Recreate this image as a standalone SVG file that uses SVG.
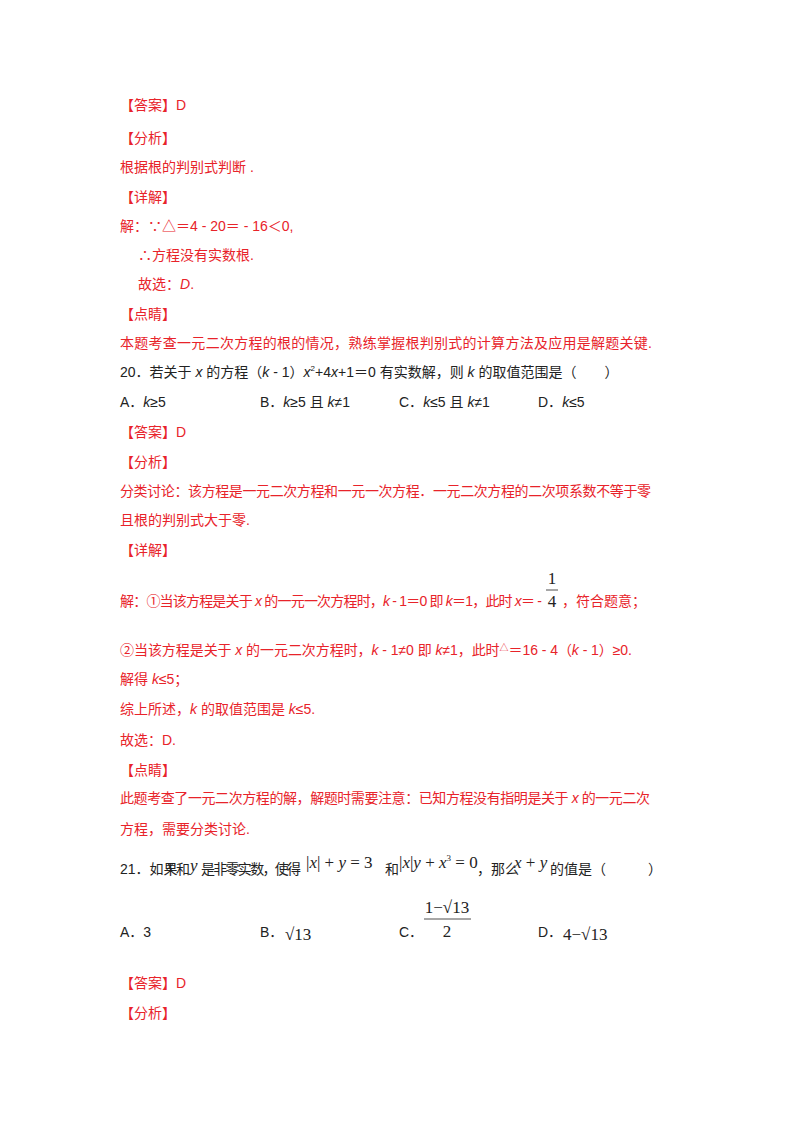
<svg xmlns="http://www.w3.org/2000/svg" width="800" height="1132" viewBox="0 0 800 1132">
<style>
text{font-family:"Liberation Sans","Noto Sans CJK SC",sans-serif;font-size:14px}
.r{fill:#e8232a}
.k{fill:#222}
.m{font-family:"Liberation Serif","Noto Sans CJK SC",serif;font-size:17px}
.i{font-style:italic}
</style>
<rect width="800" height="1132" fill="#fff"/>
<g id="page">
<text x="120" y="110" class="r">【答案】D</text>
<text x="120" y="143" class="r">【分析】</text>
<text x="120" y="172" class="r">根据根的判别式判断 .</text>
<text x="120" y="202" class="r">【详解】</text>
<text x="120" y="231" class="r">解：∵△＝4 - 20＝ - 16＜0,</text>
<text x="138" y="260" class="r">∴方程没有实数根.</text>
<text x="138" y="289" class="r">故选：<tspan class="i">D</tspan>.</text>
<text x="120" y="319" class="r">【点睛】</text>
<text x="120" y="348" class="r" textLength="532">本题考查一元二次方程的根的情况，熟练掌握根判别式的计算方法及应用是解题关键.</text>
<text x="120" y="377" class="k">20．若关于 <tspan class="i">x</tspan> 的方程（<tspan class="i">k</tspan> - 1）<tspan class="i">x</tspan><tspan font-size="8" dy="-6">2</tspan><tspan dy="6">+4</tspan><tspan class="i">x</tspan>+1＝0 有实数解，则 <tspan class="i">k</tspan> 的取值范围是（　　）</text>
<text x="120" y="407" class="k">A．<tspan class="i">k</tspan>≥5</text>
<text x="260" y="407" class="k">B．<tspan class="i">k</tspan>≥5 且 <tspan class="i">k</tspan>≠1</text>
<text x="399" y="407" class="k">C．<tspan class="i">k</tspan>≤5 且 <tspan class="i">k</tspan>≠1</text>
<text x="538" y="407" class="k">D．<tspan class="i">k</tspan>≤5</text>
<text x="120" y="437" class="r">【答案】D</text>
<text x="120" y="467" class="r">【分析】</text>
<text x="120" y="496" class="r" textLength="531">分类讨论：该方程是一元二次方程和一元一次方程．一元二次方程的二次项系数不等于零</text>
<text x="120" y="525" class="r">且根的判别式大于零.</text>
<text x="120" y="555" class="r">【详解】</text>
<text x="120" y="606" class="r" textLength="422">解：①当该方程是关于 <tspan class="i">x</tspan> 的一元一次方程时，<tspan class="i">k</tspan> - 1＝0 即 <tspan class="i">k</tspan>＝1，此时 <tspan class="i">x</tspan>＝ -</text>
<text x="552" y="584" class="m" fill="#222" text-anchor="middle">1</text>
<line x1="546" y1="590" x2="558" y2="590" stroke="#222" stroke-width="0.8"/>
<text x="552" y="607" class="m" fill="#222" text-anchor="middle">4</text>
<text x="562" y="606" class="r">，符合题意；</text>
<text x="120" y="655" class="r" textLength="512">②当该方程是关于 <tspan class="i">x</tspan> 的一元二次方程时，<tspan class="i">k</tspan> - 1≠0 即 <tspan class="i">k</tspan>≠1，此时<tspan font-size="9" dy="-4">△</tspan><tspan dy="4">＝16 - 4（</tspan><tspan class="i">k</tspan> - 1）≥0.</text>
<text x="120" y="684" class="r">解得 <tspan class="i">k</tspan>≤5；</text>
<text x="120" y="714" class="r">综上所述，<tspan class="i">k</tspan> 的取值范围是 <tspan class="i">k</tspan>≤5.</text>
<text x="120" y="745" class="r">故选：D.</text>
<text x="120" y="775" class="r">【点睛】</text>
<text x="120" y="803" class="r" textLength="530">此题考查了一元二次方程的解，解题时需要注意：已知方程没有指明是关于 <tspan class="i">x</tspan> 的一元二次</text>
<text x="120" y="834" class="r">方程，需要分类讨论.</text>
<text x="120" y="874" class="k" font-size="12">21．如果</text>
<text x="166" y="871" class="m i" fill="#222" font-size="16">x</text>
<text x="176" y="874" class="k" font-size="12">和</text>
<text x="190" y="871" class="m i" fill="#222" font-size="16">y</text>
<text x="201" y="874" class="k" font-size="12" textLength="100">是非零实数，使得</text>
<text x="306" y="868" class="m" fill="#222" font-size="16">|<tspan class="i">x</tspan>| + <tspan class="i">y</tspan> = 3</text>
<text x="385" y="874" class="k" font-size="12">和</text>
<text x="399" y="868" class="m" fill="#222" font-size="16">|<tspan class="i">x</tspan>|<tspan class="i">y</tspan> + <tspan class="i">x</tspan><tspan font-size="9" dy="-7">3</tspan><tspan dy="7"> = 0</tspan></text>
<text x="477" y="874" class="k" font-size="12">，那么</text>
<text x="514" y="868" class="m" fill="#222" font-size="16"><tspan class="i">x</tspan> + <tspan class="i">y</tspan></text>
<text x="550" y="874" class="k" font-size="12">的值是（　　　）</text>
<text x="120" y="937" class="k">A．3</text>
<text x="260" y="937" class="k">B．</text>
<text x="285" y="940" class="m" fill="#222">√13</text>
<text x="399" y="937" class="k">C．</text>
<text x="447" y="913" class="m" fill="#222" text-anchor="middle">1−√13</text>
<line x1="424" y1="919" x2="471" y2="919" stroke="#222" stroke-width="0.8"/>
<text x="447" y="937" class="m" fill="#222" text-anchor="middle">2</text>
<text x="538" y="937" class="k">D．</text>
<text x="563" y="940" class="m" fill="#222">4−√13</text>
<text x="120" y="988" class="r">【答案】D</text>
<text x="120" y="1018" class="r">【分析】</text>
</g>
</svg>
